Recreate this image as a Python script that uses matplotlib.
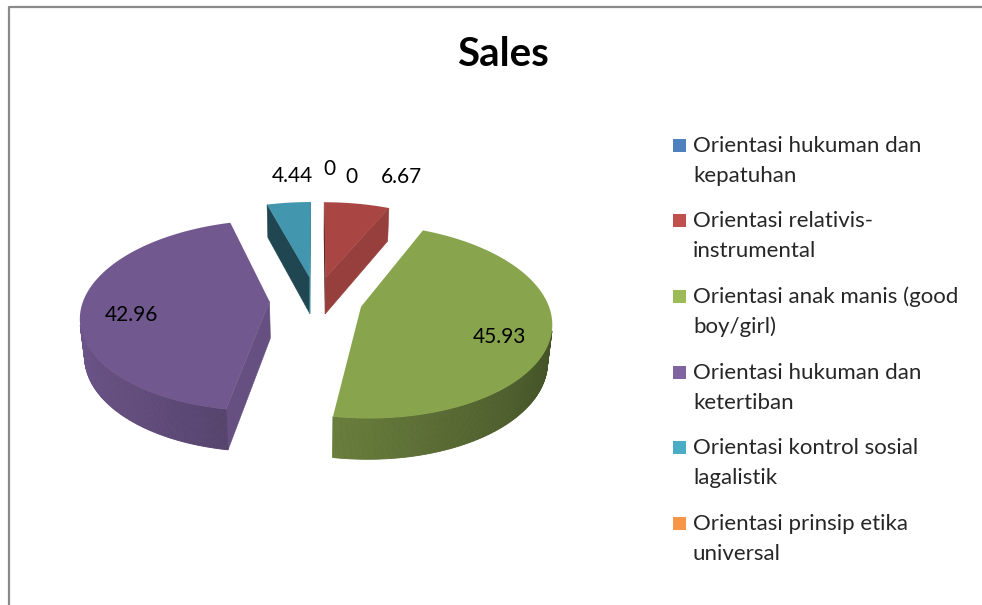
import numpy as np
import matplotlib
matplotlib.use('Agg')
import matplotlib.pyplot as plt
from matplotlib.patches import Polygon, Rectangle
from matplotlib.lines import Line2D
from matplotlib.colors import to_rgb

# data
categories = ['Orientasi hukuman dan\nkepatuhan',
              'Orientasi relativis-\ninstrumental',
              'Orientasi anak manis (good\nboy/girl)',
              'Orientasi hukuman dan\nketertiban',
              'Orientasi kontrol sosial\nlagalistik',
              'Orientasi prinsip etika\nuniversal']
values = [0, 6.67, 45.93, 42.96, 4.44, 0]
value_labels = ['0', '6.67', '45.93', '42.96', '4.44', '0']
colors = ['#4F81BD', '#C0504D', '#9BBB59', '#8064A2', '#4BACC6', '#F79646']
title = 'Sales'

plt.rcParams['font.family'] = ['Lato', 'DejaVu Sans']

W, H = 982, 605
fig = plt.figure(figsize=(W / 100, H / 100), dpi=100)
ax = fig.add_axes([0, 0, 1, 1])
ax.set_xlim(0, W)
ax.set_ylim(H, 0)
ax.axis('off')

# 3d view settings (perspective, like excel's 3-D pie)
EL = np.radians(30)
DIST = 5.86
SCALE = 186.0
CX, CY = 316, 300
THICK = 0.233
EXPLODE = 0.25
cam = np.array([0.0, -DIST * np.cos(EL), DIST * np.sin(EL)])


def project(x, y, z):
    v = y * np.sin(EL) + z * np.cos(EL)
    w = DIST + y * np.cos(EL) - z * np.sin(EL)
    f = SCALE * DIST
    return CX + f * x / w, CY - f * v / w


def shade(c, k):
    r, g, b = to_rgb(c)
    return (min(r * k, 1), min(g * k, 1), min(b * k, 1))


total = float(sum(values))
angles = np.cumsum([0] + values) / total * 2 * np.pi

slices = []
for i, v in enumerate(values):
    a0, a1 = angles[i], angles[i + 1]
    mid = (a0 + a1) / 2
    ox, oy = EXPLODE * np.sin(mid), EXPLODE * np.cos(mid)
    slices.append((i, a0, a1, mid, ox, oy))

# draw back slices first
order = sorted([s for s in slices if values[s[0]] > 0], key=lambda s: -s[5])
for i, a0, a1, mid, ox, oy in order:
    col = colors[i]
    th = np.linspace(a0, a1, max(int((a1 - a0) / 0.01), 2))
    rx, ry = ox + np.sin(th), oy + np.cos(th)

    # cut faces
    for a, nrm in ((a0, a0 - np.pi / 2), (a1, a1 + np.pi / 2)):
        n = np.array([np.sin(nrm), np.cos(nrm), 0])
        p = np.array([ox, oy, 0])
        if np.dot(n, cam - p) <= 0:
            continue
        px = [ox, ox + np.sin(a), ox + np.sin(a), ox]
        py = [oy, oy + np.cos(a), oy + np.cos(a), oy]
        pz = [0, 0, -THICK, -THICK]
        sx, sy = project(np.array(px), np.array(py), np.array(pz))
        k = 0.6 + 0.2 * np.sin(nrm)
        ax.add_patch(Polygon(np.column_stack([sx, sy]), closed=True,
                             facecolor=shade(col, k), edgecolor=shade(col, k),
                             linewidth=0.4))

    # outer side, drawn in thin strips for the gradient
    for j in range(len(th) - 1):
        t = (th[j] + th[j + 1]) / 2
        n = np.array([np.sin(t), np.cos(t), 0])
        p = np.array([ox + np.sin(t), oy + np.cos(t), 0])
        if np.dot(n, cam - p) <= 0:
            continue
        xs = np.array([rx[j], rx[j + 1], rx[j + 1], rx[j]])
        ys = np.array([ry[j], ry[j + 1], ry[j + 1], ry[j]])
        zs = np.array([0, 0, -THICK, -THICK])
        sx, sy = project(xs, ys, zs)
        k = 0.64 - 0.2 * np.sin(t)
        ax.add_patch(Polygon(np.column_stack([sx, sy]), closed=True,
                             facecolor=shade(col, k), edgecolor=shade(col, k),
                             linewidth=0.6))

    # top face
    tx, ty = project(np.concatenate([[ox], rx]), np.concatenate([[oy], ry]),
                     np.zeros(len(rx) + 1))
    ax.add_patch(Polygon(np.column_stack([tx, ty]), closed=True,
                         facecolor=shade(col, 0.88), edgecolor='none'))

# data labels
LABEL_DX, LABEL_DY = 24, 21
for i, a0, a1, mid, ox, oy in slices:
    if values[i] > 10:
        lx, ly = project(ox + 0.74 * np.sin(mid), oy + 0.74 * np.cos(mid),
                         -THICK / 4)
        ax.text(lx, ly, value_labels[i], ha='center', va='center',
                fontsize=15, color='#000000')
    else:
        rx_, ry_ = project(ox + np.sin(mid), oy + np.cos(mid), 0)
        right = mid < np.pi
        dx, dy = LABEL_DX, LABEL_DY
        if values[i] == 0:
            # the two empty slices share an angle; push their labels apart
            dx += 5 if right else -4
            dy += -2 if right else 6
        ax.text(rx_ + dx, ry_ - dy, value_labels[i],
                ha='left' if right else 'right',
                va='baseline', fontsize=15, color='#000000')

# title
ax.text(503, 55, title, ha='center', va='center', fontsize=29,
        fontweight='bold', color='#000000')

# legend drawn by hand so the swatch sits on the first line
LEG_X, LEG_Y, LEG_STEP, LINE_STEP = 673, 151.5, 75.7, 30
for i, lab in enumerate(categories):
    y0 = LEG_Y + i * LEG_STEP
    ax.add_patch(Rectangle((LEG_X, y0 - 13), 13, 13, facecolor=colors[i],
                           edgecolor='none'))
    for j, line in enumerate(lab.split('\n')):
        ax.text(LEG_X + 20, y0 + j * LINE_STEP, line, ha='left',
                va='baseline', fontsize=16, color='#262626')

# chart border (only top and left edges fall inside the image)
ax.add_line(Line2D([9, 9, W], [H, 7, 7], color='#8a8a8a', linewidth=1.6))

fig.savefig('out.png', dpi=100)
